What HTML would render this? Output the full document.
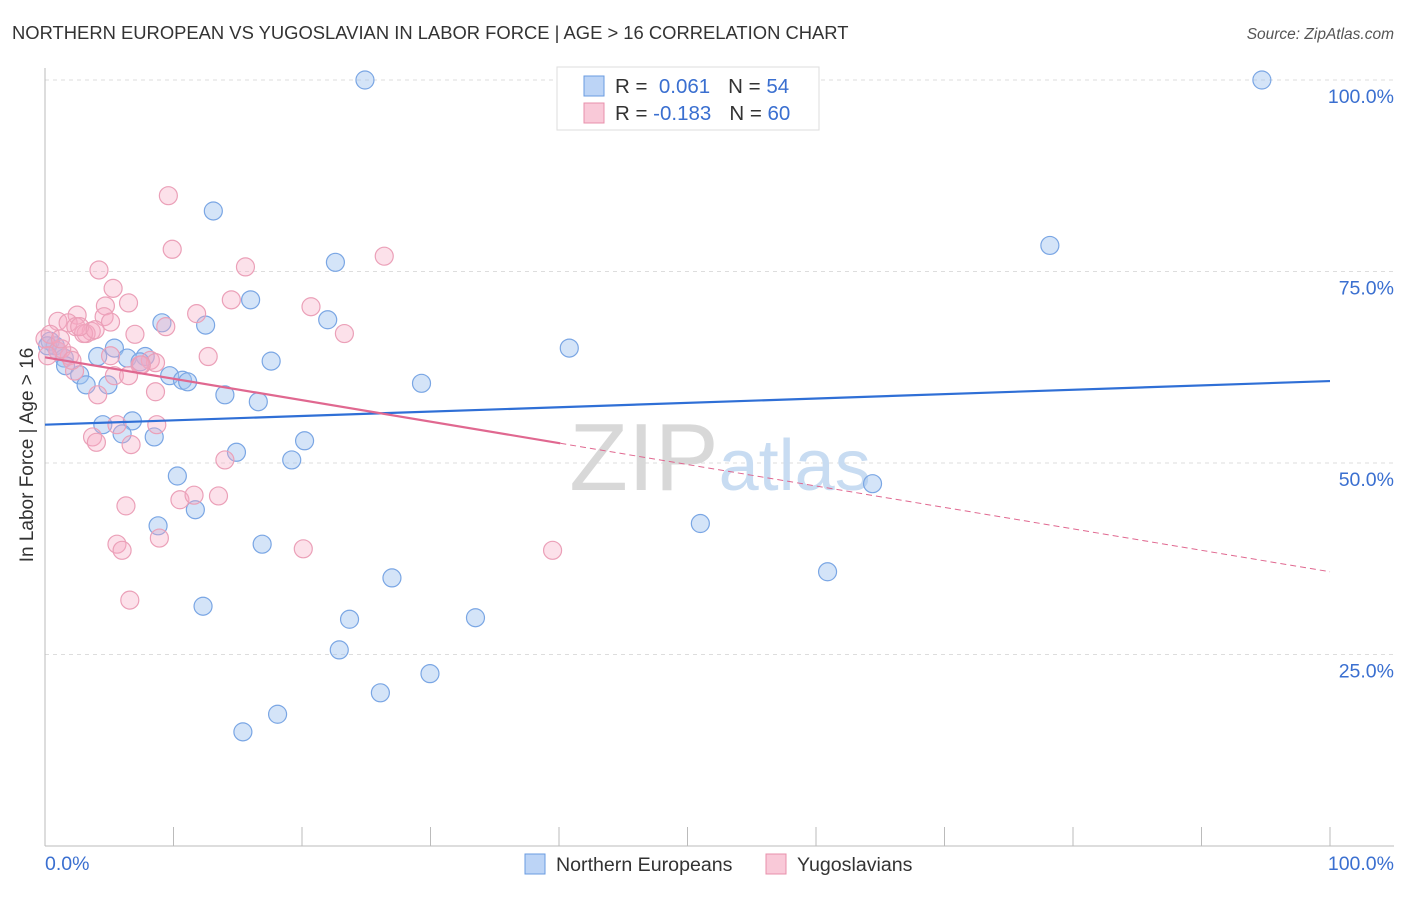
<!DOCTYPE html>
<html><head><meta charset="utf-8"><style>
body{margin:0;background:#fff;font-family:"Liberation Sans",sans-serif}
svg text{font-family:"Liberation Sans",sans-serif}
</style></head><body>
<svg id="chart" width="1406" height="892">
<text x="12" y="39" font-size="18.4" fill="#333">NORTHERN EUROPEAN VS YUGOSLAVIAN IN LABOR FORCE | AGE &gt; 16 CORRELATION CHART</text>
<text x="1394" y="39" font-size="15.5" fill="#555" font-style="italic" text-anchor="end">Source: ZipAtlas.com</text>
<g id="grid"></g>
<text x="720" y="490" font-size="96" fill="#ddd" text-anchor="middle" font-family="Liberation Serif"><tspan fill="#d8d8d8">ZIP</tspan><tspan fill="#c8dcf2" font-family="Liberation Sans" font-size="72">atlas</tspan></text>
<g id="pts"></g>
<g id="trend"></g>
<text x="33" y="455" font-size="19" fill="#333" text-anchor="middle" transform="rotate(-90 33 455)">In Labor Force | Age &gt; 16</text>
<text x="45" y="870" font-size="19.5" fill="#3a6fd0">0.0%</text>
<text x="1394" y="870" font-size="19.5" fill="#3a6fd0" text-anchor="end">100.0%</text>
<g>
<rect x="557" y="67" width="262" height="63" fill="#fff" stroke="#ddd"/>
<rect x="584" y="76" width="20" height="20" fill="#bcd4f6" stroke="#6a9be0"/>
<rect x="584" y="103" width="20" height="20" fill="#f9c9d8" stroke="#e890ab"/>
<text x="615" y="93" font-size="20.5" fill="#333">R = <tspan fill="#3a6fd0">&#160;0.061</tspan><tspan dx="18">N = </tspan><tspan fill="#3a6fd0">54</tspan></text>
<text x="615" y="120" font-size="20.5" fill="#333">R = <tspan fill="#3a6fd0">-0.183</tspan><tspan dx="18">N = </tspan><tspan fill="#3a6fd0">60</tspan></text>
</g>
<g>
<rect x="525" y="854" width="20" height="20" fill="#bcd4f6" stroke="#6a9be0"/>
<text x="556" y="871" font-size="19.6" fill="#333">Northern Europeans</text>
<rect x="766" y="854" width="20" height="20" fill="#f9c9d8" stroke="#e890ab"/>
<text x="797" y="871" font-size="19.6" fill="#333">Yugoslavians</text>
</g>
</svg>
<script>
const yTicks=[25,50,75,100];
const yTickLabels=["25.0%","50.0%","75.0%","100.0%"];
const blueX=[24.9,94.7,13.1,78.2,22.6,16.0,22.0,9.1,12.5,40.8,17.6,0.8,0.4,1.5,4.1,5.4,6.4,7.8,7.4,1.6,2.7,3.2,4.9,9.7,10.7,11.1,29.3,14.0,16.6,4.5,6.8,6.0,8.5,20.2,14.9,19.2,10.3,64.4,11.7,8.8,51.0,16.9,27.0,60.9,23.7,33.5,12.3,22.9,29.96,26.1,18.1,15.4,0.2,1.0];
const blueY=[100,100,82.9,78.4,76.2,71.3,68.7,68.3,68.0,65.0,63.3,65.3,65.9,63.7,63.9,65.0,63.7,63.9,63.2,62.7,61.5,60.2,60.2,61.4,60.8,60.6,60.4,58.9,58.0,55.0,55.5,53.8,53.4,52.9,51.4,50.4,48.3,47.3,43.9,41.8,42.1,39.4,35.0,35.8,29.6,29.8,31.3,25.6,22.5,20.0,17.2,14.9,65.3,64.6];
const pinkX=[9.6,9.9,26.4,4.2,15.6,5.3,6.5,4.7,14.5,20.7,11.8,23.3,4.6,2.5,1.0,1.8,2.4,3.6,5.1,3.2,3.0,9.4,7.0,12.7,5.1,8.2,8.6,7.4,1.9,1.0,5.4,4.1,8.6,2.3,1.3,0.0,0.4,0.2,5.6,8.7,3.7,4.0,6.7,14.0,10.5,11.6,13.5,6.3,5.6,6.0,8.9,20.1,39.5,6.6,7.5,6.5,2.7,3.9,2.1,1.2];
const pinkY=[84.9,77.9,77.0,75.2,75.6,72.8,70.9,70.5,71.3,70.4,69.5,66.9,69.1,69.3,68.5,68.3,67.8,67.2,68.4,66.9,66.9,67.8,66.8,63.9,64.0,63.4,63.1,62.8,64.0,64.6,61.4,58.9,59.3,62.0,64.9,66.2,66.8,64.0,55.0,55.0,53.4,52.7,52.4,50.4,45.2,45.8,45.7,44.4,39.4,38.6,40.2,38.8,38.6,32.1,62.8,61.4,67.8,67.4,63.4,66.2];
const blueTrend=[55.0,60.7];
const pinkTrend=[63.8,35.8];
const pinkSolidEnd=40.1;
const X=v=>45+v*12.85, Y=v=>846-v*7.66;
const ns="http://www.w3.org/2000/svg";
function mk(t,a,p){const e=document.createElementNS(ns,t);for(const k in a)e.setAttribute(k,a[k]);p.appendChild(e);return e;}
const grid=document.getElementById('grid');
yTicks.forEach((t,i)=>{
 const l=mk('line',{x1:45,x2:1394,y1:Y(t),y2:Y(t),stroke:'#ddd','stroke-dasharray':'4,4'},grid);
 
 
 const tx=mk('text',{x:1394,y:Y(t)+23,'font-size':19.5,fill:'#3a6fd0','text-anchor':'end'},grid);
 tx.textContent=yTickLabels[i];
 
 
});
const ax=mk('line',{x1:45,x2:45,y1:68,y2:846,stroke:'#bbb'},grid);


const bx=mk('line',{x1:45,x2:1394,y1:846,y2:846,stroke:'#bbb'},grid);


for(let i=1;i<=10;i++){const t=mk('line',{x1:X(i*10),x2:X(i*10),y1:827,y2:846,stroke:'#bbb'},grid);
 
 }
const pts=document.getElementById('pts');
blueX.forEach((v,i)=>{const c=mk('circle',{cx:X(v),cy:Y(blueY[i]),r:9,fill:'rgba(160,196,240,0.45)',stroke:'#7aa6e4','stroke-width':1.2},pts);
 
 });
pinkX.forEach((v,i)=>{const c=mk('circle',{cx:X(v),cy:Y(pinkY[i]),r:9,fill:'rgba(245,170,195,0.35)',stroke:'#eba0b8','stroke-width':1.2},pts);
 
 });
const tr=document.getElementById('trend');
const b=mk('line',{x1:X(0),y1:Y(blueTrend[0]),x2:X(100),y2:Y(blueTrend[1]),stroke:'#2f6fd6','stroke-width':2.2},tr);


const py=x=>pinkTrend[0]+(pinkTrend[1]-pinkTrend[0])*x/100;
const p1=mk('line',{x1:X(0),y1:Y(pinkTrend[0]),x2:X(pinkSolidEnd),y2:Y(py(pinkSolidEnd)),stroke:'#e06890','stroke-width':2.2},tr);


const p2=mk('line',{x1:X(pinkSolidEnd),y1:Y(py(pinkSolidEnd)),x2:X(100),y2:Y(pinkTrend[1]),stroke:'#e06890','stroke-width':1,'stroke-dasharray':'6,4'},tr);


</script>
</body></html>
